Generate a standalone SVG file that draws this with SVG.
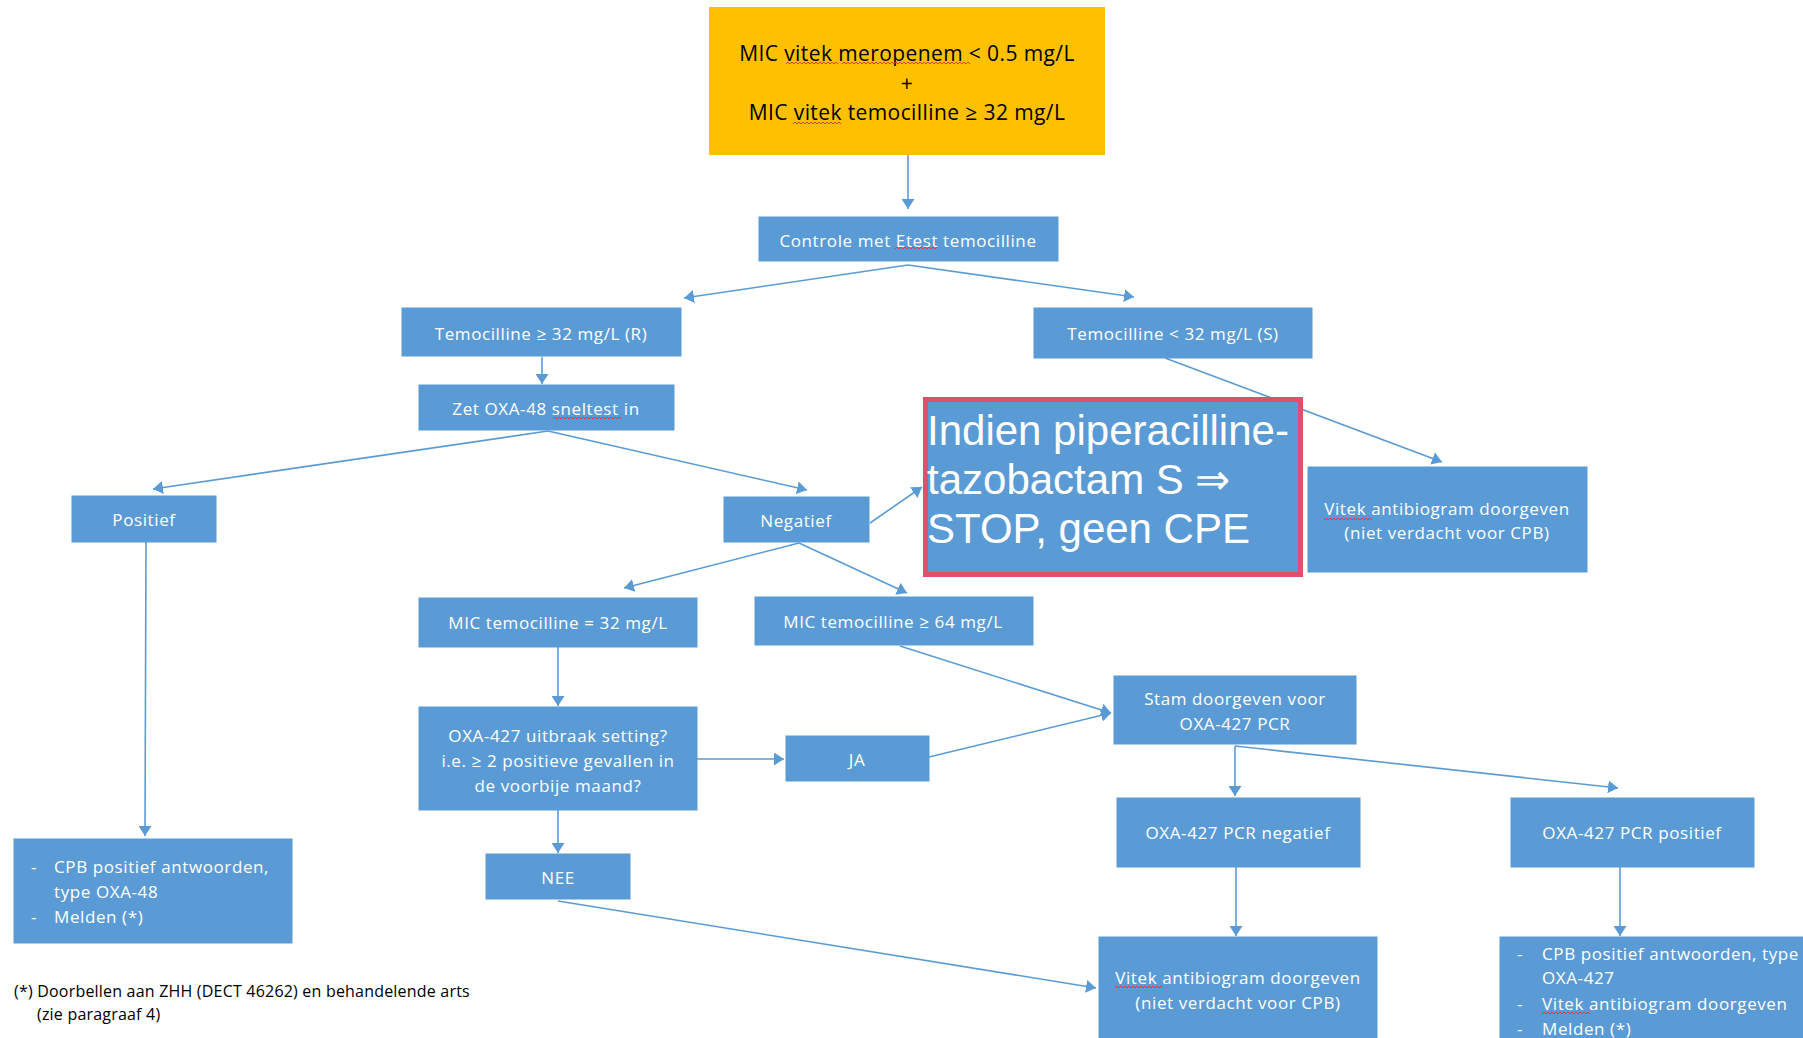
<svg xmlns="http://www.w3.org/2000/svg" width="1803" height="1038" viewBox="0 0 1803 1038">
<defs>
<style>
.box{fill:#5B9BD5;stroke:#5B9BD5;stroke-width:1}
.t{font-family:"Open Sans","Liberation Sans",sans-serif;font-size:17px;letter-spacing:0.6px;fill:#ffffff;text-anchor:middle;dominant-baseline:central}
.tl{font-family:"Open Sans","Liberation Sans",sans-serif;font-size:17px;letter-spacing:0.6px;fill:#ffffff;dominant-baseline:central}
.blk{font-family:"Open Sans","Liberation Sans",sans-serif;font-size:21px;letter-spacing:0.4px;fill:#000000;text-anchor:middle;dominant-baseline:central}
.fn{font-family:"Open Sans","Liberation Sans",sans-serif;font-size:16px;letter-spacing:0.2px;fill:#000000;dominant-baseline:central}
.big{font-family:"Liberation Sans",Arial,sans-serif;font-size:42px;fill:#ffffff}
.c line{stroke:#5B9BD5;stroke-width:1.6;fill:none;marker-end:url(#ah)}
.sq{fill:none;stroke:#E03A3A;stroke-width:1}
</style>
<marker id="ah" viewBox="0 0 10 13" refX="10" refY="6.5" markerWidth="10" markerHeight="13" markerUnits="userSpaceOnUse" orient="auto">
<path d="M0,0 L10,6.5 L0,13 z" fill="#5B9BD5"/>
</marker>
</defs>
<rect width="1803" height="1038" fill="#ffffff"/>

<g id="connectors" class="c">
<line x1="908" y1="155" x2="908" y2="209"/>
<line x1="908" y1="265" x2="684" y2="298"/>
<line x1="908" y1="265" x2="1134" y2="297"/>
<line x1="542" y1="357" x2="542" y2="384"/>
<line x1="548" y1="431" x2="153" y2="489"/>
<line x1="548" y1="431" x2="807" y2="490"/>
<line x1="870" y1="523" x2="922" y2="487"/>
<line x1="1165" y1="358" x2="1442" y2="462"/>
<line x1="799" y1="543" x2="624" y2="588"/>
<line x1="799" y1="543" x2="907" y2="593"/>
<line x1="146" y1="542" x2="145" y2="836"/>
<line x1="558" y1="647" x2="558" y2="706"/>
<line x1="697" y1="759" x2="784" y2="759"/>
<line x1="558" y1="810" x2="558" y2="853"/>
<line x1="900" y1="646" x2="1111" y2="713"/>
<line x1="929" y1="757" x2="1111" y2="713"/>
<line x1="1235" y1="746" x2="1235" y2="796"/>
<line x1="1235" y1="746" x2="1618" y2="788"/>
<line x1="558" y1="901" x2="1096" y2="988"/>
<line x1="1236" y1="867" x2="1236" y2="936"/>
<line x1="1620" y1="867" x2="1620" y2="936"/>
</g>

<g id="n-start">
<rect x="709" y="7" width="396" height="148" fill="#FFC000"/>
<text class="blk" x="907" y="53">MIC vitek meropenem  &lt; 0.5 mg/L</text>
<text class="blk" x="907" y="83">+</text>
<text class="blk" x="907" y="112">MIC vitek temocilline ≥ 32 mg/L</text>
<path class="sq" d="M786,64 l2,-2 l2,2 l2,-2 l2,2 l2,-2 l2,2 l2,-2 l2,2 l2,-2 l2,2 l2,-2 l2,2 l2,-2 l2,2 l2,-2 l2,2 l2,-2 l2,2 l2,-2 l2,2 l2,-2 l2,2 l2,-2 l2,2 l2,-2 l2,2"/>
<path class="sq" d="M842,64 l2,-2 l2,2 l2,-2 l2,2 l2,-2 l2,2 l2,-2 l2,2 l2,-2 l2,2 l2,-2 l2,2 l2,-2 l2,2 l2,-2 l2,2 l2,-2 l2,2 l2,-2 l2,2 l2,-2 l2,2 l2,-2 l2,2 l2,-2 l2,2 l2,-2 l2,2 l2,-2 l2,2 l2,-2 l2,2 l2,-2 l2,2 l2,-2 l2,2 l2,-2 l2,2 l2,-2 l2,2 l2,-2 l2,2 l2,-2 l2,2 l2,-2 l2,2 l2,-2 l2,2 l2,-2 l2,2 l2,-2 l2,2 l2,-2 l2,2 l2,-2 l2,2 l2,-2 l2,2 l2,-2 l2,2 l2,-2 l2,2 l2,-2 l2,2"/>
<path class="sq" d="M793,124 l2,-2 l2,2 l2,-2 l2,2 l2,-2 l2,2 l2,-2 l2,2 l2,-2 l2,2 l2,-2 l2,2 l2,-2 l2,2 l2,-2 l2,2 l2,-2 l2,2 l2,-2 l2,2 l2,-2 l2,2 l2,-2 l2,2"/>
</g>

<g id="n-controle">
<rect class="box" x="759" y="217" width="299" height="44"/>
<text class="t" x="908" y="240">Controle met Etest temocilline</text>
<path class="sq" d="M895,249 l2,-2 l2,2 l2,-2 l2,2 l2,-2 l2,2 l2,-2 l2,2 l2,-2 l2,2 l2,-2 l2,2 l2,-2 l2,2 l2,-2 l2,2 l2,-2 l2,2 l2,-2 l2,2 l2,-2"/>
</g>

<g id="n-temoR">
<rect class="box" x="402" y="308" width="279" height="48"/>
<text class="t" x="541" y="333">Temocilline ≥ 32 mg/L (R)</text>
</g>

<g id="n-temoS">
<rect class="box" x="1034" y="308" width="278" height="50"/>
<text class="t" x="1173" y="333">Temocilline &lt; 32 mg/L (S)</text>
</g>

<g id="n-zet">
<rect class="box" x="419" y="385" width="255" height="45"/>
<text class="t" x="546" y="408">Zet OXA-48 sneltest in</text>
<path class="sq" d="M553,419 l2,-2 l2,2 l2,-2 l2,2 l2,-2 l2,2 l2,-2 l2,2 l2,-2 l2,2 l2,-2 l2,2 l2,-2 l2,2 l2,-2 l2,2 l2,-2 l2,2 l2,-2 l2,2 l2,-2 l2,2 l2,-2 l2,2 l2,-2 l2,2 l2,-2 l2,2 l2,-2 l2,2 l2,-2 l2,2 l2,-2 l2,2"/>
</g>

<g id="n-positief">
<rect class="box" x="72" y="496" width="144" height="46"/>
<text class="t" x="144" y="519">Positief</text>
</g>

<g id="n-negatief">
<rect class="box" x="724" y="497" width="145" height="45"/>
<text class="t" x="796" y="520">Negatief</text>
</g>

<g id="n-stop">
<rect x="925.5" y="399.5" width="375" height="175" fill="#5B9BD5" stroke="#E0506C" stroke-width="5"/>
<text class="big" x="927" y="445">Indien piperacilline-</text>
<text class="big" x="927" y="494">tazobactam S ⇒</text>
<text class="big" x="927" y="543">STOP, geen CPE</text>
</g>

<g id="n-vitek1">
<rect class="box" x="1308" y="467" width="279" height="105"/>
<text class="t" x="1447" y="508">Vitek antibiogram doorgeven</text>
<text class="t" x="1447" y="532">(niet verdacht voor CPB)</text>
<path class="sq" d="M1324,520 l2,-2 l2,2 l2,-2 l2,2 l2,-2 l2,2 l2,-2 l2,2 l2,-2 l2,2 l2,-2 l2,2 l2,-2 l2,2 l2,-2 l2,2 l2,-2 l2,2 l2,-2 l2,2 l2,-2 l2,2 l2,-2 l2,2"/>
</g>

<g id="n-mic32">
<rect class="box" x="419" y="598" width="278" height="49"/>
<text class="t" x="558" y="622">MIC temocilline = 32 mg/L</text>
</g>

<g id="n-mic64">
<rect class="box" x="755" y="597" width="278" height="48"/>
<text class="t" x="893" y="621">MIC temocilline ≥ 64 mg/L</text>
</g>

<g id="n-oxa">
<rect class="box" x="419" y="707" width="278" height="103"/>
<text class="t" x="558" y="735">OXA-427 uitbraak setting?</text>
<text class="t" x="558" y="760">i.e. ≥ 2 positieve gevallen in</text>
<text class="t" x="558" y="785">de voorbije maand?</text>
</g>

<g id="n-ja">
<rect class="box" x="786" y="736" width="143" height="45"/>
<text class="t" x="857" y="759">JA</text>
</g>

<g id="n-nee">
<rect class="box" x="486" y="854" width="144" height="45"/>
<text class="t" x="558" y="877">NEE</text>
</g>

<g id="n-stam">
<rect class="box" x="1114" y="676" width="242" height="68"/>
<text class="t" x="1235" y="698">Stam  doorgeven voor</text>
<text class="t" x="1235" y="723">OXA-427 PCR</text>
</g>

<g id="n-pcrneg">
<rect class="box" x="1117" y="798" width="243" height="69"/>
<text class="t" x="1238" y="832">OXA-427 PCR negatief</text>
</g>

<g id="n-pcrpos">
<rect class="box" x="1511" y="798" width="243" height="69"/>
<text class="t" x="1632" y="832">OXA-427 PCR positief</text>
</g>

<g id="n-cpb1">
<rect class="box" x="14" y="839" width="278" height="104"/>
<text class="tl" x="31" y="866">-</text>
<text class="tl" x="54" y="866">CPB positief antwoorden,</text>
<text class="tl" x="54" y="891">type OXA-48</text>
<text class="tl" x="31" y="916">-</text>
<text class="tl" x="54" y="916">Melden (*)</text>
</g>

<g id="n-vitek2">
<rect class="box" x="1099" y="937" width="278" height="110"/>
<text class="t" x="1238" y="977">Vitek antibiogram doorgeven</text>
<text class="t" x="1238" y="1002">(niet verdacht voor CPB)</text>
<path class="sq" d="M1115,988 l2,-2 l2,2 l2,-2 l2,2 l2,-2 l2,2 l2,-2 l2,2 l2,-2 l2,2 l2,-2 l2,2 l2,-2 l2,2 l2,-2 l2,2 l2,-2 l2,2 l2,-2 l2,2 l2,-2 l2,2 l2,-2 l2,2"/>
</g>

<g id="n-cpb2">
<rect class="box" x="1500" y="937" width="310" height="110"/>
<text class="tl" x="1517" y="953">-</text>
<text class="tl" x="1542" y="953">CPB positief antwoorden, type</text>
<text class="tl" x="1542" y="977">OXA-427</text>
<text class="tl" x="1517" y="1003">-</text>
<text class="tl" x="1542" y="1003">Vitek antibiogram doorgeven</text>
<text class="tl" x="1517" y="1028">-</text>
<text class="tl" x="1542" y="1028">Melden (*)</text>
<path class="sq" d="M1542,1014 l2,-2 l2,2 l2,-2 l2,2 l2,-2 l2,2 l2,-2 l2,2 l2,-2 l2,2 l2,-2 l2,2 l2,-2 l2,2 l2,-2 l2,2 l2,-2 l2,2 l2,-2 l2,2 l2,-2 l2,2 l2,-2 l2,2"/>
</g>

<g id="footnote">
<text class="fn" x="14" y="991">(*) Doorbellen aan ZHH (DECT 46262) en behandelende arts</text>
<text class="fn" x="37" y="1014">(zie paragraaf 4)</text>
</g>
</svg>
